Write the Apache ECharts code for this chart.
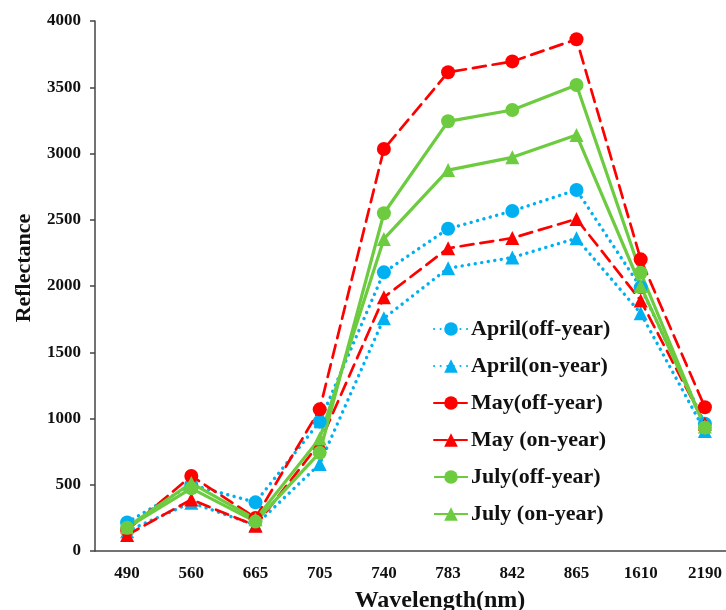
<!DOCTYPE html>
<html><head><meta charset="utf-8">
<script src="https://cdn.jsdelivr.net/npm/echarts@6/dist/echarts.min.js"></script>
<style>html,body{margin:0;padding:0;background:#fff}#c{width:726px;height:610px}</style>
</head><body><div id="c"></div>
<script>
const categories = ['490','560','665','705','740','783','842','865','1610','2190'];
const aprilOff = [215, 500, 367, 976, 2103, 2432, 2566, 2725, 1990, 960];
const aprilOn  = [150, 365, 195, 657, 1756, 2134, 2215, 2360, 1794, 905];
const mayOff   = [158, 566, 250, 1069, 3034, 3613, 3695, 3862, 2201, 1085];
const mayOn    = [121, 388, 191, 815, 1915, 2285, 2362, 2506, 1890, 960];
const julyOff  = [176, 473, 222, 742, 2549, 3243, 3328, 3517, 2100, 931];
const julyOn   = [180, 513, 240, 850, 2355, 2875, 2971, 3140, 2000, 940];
const seriesNames = ['April(off-year)','April(on-year)','May(off-year)','May (on-year)','July(off-year)','July (on-year)'];

const BLUE = '#00B0F0', RED = '#FF0000', GREEN = '#6CCB3F';
const font = '"Liberation Serif", "Times New Roman", serif';

function mk(name, data, color, symbol, ltype, width) {
  return {
    name, type: 'line', data, symbol, symbolSize: 14,
    itemStyle: { color },
    lineStyle: { color, width, type: ltype, cap: ltype === 'solid' ? 'butt' : 'round' },
    emphasis: { disabled: true }, animation: false
  };
}
const dotted = [0.1, 6.5], dashed = [13, 7];
const chart = echarts.init(document.getElementById('c'));
chart.setOption({
  backgroundColor: '#fff',
  animation: false,
  grid: { left: 95, top: 21, width: 642, height: 530, containLabel: false, outerBoundsMode: 'none' },
  legend: {
    orient: 'vertical', left: 433, top: 318, padding: 0, itemWidth: 34, itemHeight: 17, itemGap: 15,
    textStyle: { fontFamily: font, fontWeight: 'bold', fontSize: 22, color: '#111', padding: [0, 0, 0, -2] },
    data: seriesNames
  },
  xAxis: {
    type: 'category', data: categories, boundaryGap: true,
    name: 'Wavelength(nm)', nameLocation: 'middle', nameGap: 38,
    nameTextStyle: { fontFamily: font, fontWeight: 'bold', fontSize: 24, color: '#111', padding: [0, 0, 0, 48] },
    axisLine: { lineStyle: { color: '#444', width: 1.5 } },
    axisTick: { alignWithLabel: true, length: 5, lineStyle: { color: '#444', width: 1.5 } },
    axisLabel: { fontFamily: font, fontWeight: 'bold', fontSize: 17, color: '#111', margin: 14 }
  },
  yAxis: {
    type: 'value', min: 0, max: 4000, interval: 500,
    name: 'Reflectance', nameLocation: 'middle', nameGap: 60, nameRotate: 90,
    nameTextStyle: { fontFamily: font, fontWeight: 'bold', fontSize: 22, color: '#111', padding: [0, 0, 0, 36] },
    axisLine: { show: true, lineStyle: { color: '#444', width: 1.5 } },
    axisTick: { show: true, length: 5, lineStyle: { color: '#444', width: 1.5 } },
    splitLine: { show: false },
    axisLabel: { fontFamily: font, fontWeight: 'bold', fontSize: 17, color: '#111', margin: 14, formatter: v => String(v) }
  },
  series: [
    mk(seriesNames[0], aprilOff, BLUE, 'circle', dotted, 3.4),
    mk(seriesNames[1], aprilOn, BLUE, 'triangle', dotted, 3.4),
    mk(seriesNames[2], mayOff, RED, 'circle', dashed, 2.7),
    mk(seriesNames[3], mayOn, RED, 'triangle', dashed, 2.7),
    mk(seriesNames[4], julyOff, GREEN, 'circle', 'solid', 3.2),
    mk(seriesNames[5], julyOn, GREEN, 'triangle', 'solid', 3.2)
  ]
});
</script></body></html>
